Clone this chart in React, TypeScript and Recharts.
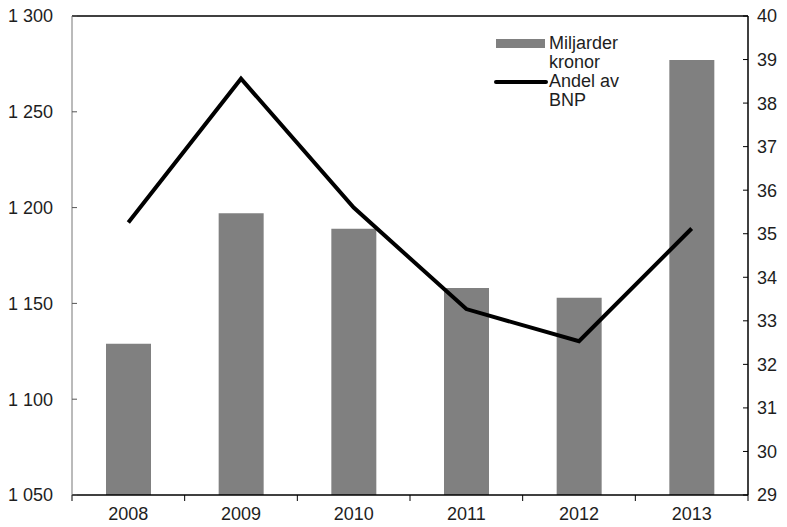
import React from "react";
import {
  ComposedChart,
  Bar,
  Line,
  XAxis,
  YAxis,
  ReferenceLine,
  Legend,
} from "recharts";

// Yearly figures: billions of kronor (bars) and share of GDP (line)
const years = ["2008", "2009", "2010", "2011", "2012", "2013"];
const miljarderKronor = [1129, 1197, 1189, 1158, 1153, 1277];
const andelAvBnp = [35.26, 38.56, 35.6, 33.27, 32.53, 35.12];

const leftTicks = [1050, 1100, 1150, 1200, 1250, 1300];
const rightTicks = [29, 30, 31, 32, 33, 34, 35, 36, 37, 38, 39, 40];

const data = years.map((year, i) => ({
  year,
  kronor: miljarderKronor[i],
  andel: andelAvBnp[i],
}));

const W = 787;
const H = 527;
const LEFT_W = 72;
const RIGHT_W = 39;
const plotWidth = W - LEFT_W - RIGHT_W;
const halfBand = plotWidth / years.length / 2;

const FONT = "'Liberation Sans', Arial, sans-serif";
const TEXT = "#1e1e1e";

const fmtThousands = (v: number) =>
  String(v).replace(/\B(?=(\d{3})+(?!\d))/g, " ");

const LeftTick = (props: any) => {
  const { x, y, payload } = props;
  return (
    <g>
      <line x1={x} x2={x + 5} y1={y} y2={y} stroke="#555" />
      <text
        x={x - 19}
        y={y}
        dy="0.36em"
        textAnchor="end"
        fontSize={18}
        fontFamily={FONT}
        fill={TEXT}
      >
        {fmtThousands(payload.value)}
      </text>
    </g>
  );
};

const RightTick = (props: any) => {
  const { x, y, payload } = props;
  return (
    <g>
      <line x1={x - 5} x2={x} y1={y} y2={y} stroke="#000" />
      <text
        x={x + 9}
        y={y}
        dy="0.36em"
        textAnchor="start"
        fontSize={18}
        fontFamily={FONT}
        fill={TEXT}
      >
        {payload.value}
      </text>
    </g>
  );
};

const YearTick = (props: any) => {
  const { x, y, payload, index } = props;
  return (
    <g>
      <line x1={x - halfBand} x2={x - halfBand} y1={y} y2={y + 6} stroke="#000" />
      {index === years.length - 1 && (
        <line x1={x + halfBand} x2={x + halfBand} y1={y} y2={y + 6} stroke="#000" />
      )}
      <text
        x={x}
        y={y + 19}
        dy="0.36em"
        textAnchor="middle"
        fontSize={18}
        fontFamily={FONT}
        fill={TEXT}
      >
        {payload.value}
      </text>
    </g>
  );
};

const LegendBox = () => (
  <div
    style={{
      fontFamily: FONT,
      fontSize: 18,
      color: TEXT,
      lineHeight: "19px",
      width: 150,
      textAlign: "left",
    }}
  >
    <div style={{ display: "flex", alignItems: "flex-start" }}>
      <div
        style={{
          width: 49,
          height: 9,
          background: "#808080",
          marginTop: 5,
          marginRight: 4,
          marginLeft: 2,
        }}
      />
      <div>
        Miljarder
        <br />
        kronor
      </div>
    </div>
    <div style={{ display: "flex", alignItems: "flex-start" }}>
      <div
        style={{
          width: 54,
          height: 4,
          background: "#000",
          borderRadius: 2,
          marginTop: 8,
          marginRight: 1,
        }}
      />
      <div>
        Andel av
        <br />
        BNP
      </div>
    </div>
  </div>
);

export default function App() {
  return (
    <div style={{ position: "absolute", left: 0, top: 0, background: "#fff" }}>
      <ComposedChart
        width={W}
        height={H}
        data={data}
        margin={{ top: 16, right: 0, bottom: 0, left: 0 }}
      >
        <XAxis
          dataKey="year"
          height={32}
          tickSize={0}
          tickMargin={0}
          tickLine={false}
          axisLine={{ stroke: "#000", strokeWidth: 1.5 }}
          tick={<YearTick />}
          interval={0}
        />
        <YAxis
          yAxisId="left"
          orientation="left"
          width={LEFT_W}
          domain={[1050, 1300]}
          ticks={leftTicks}
          tickSize={0}
          tickMargin={0}
          tickLine={false}
          axisLine={{ stroke: "#777" }}
          tick={<LeftTick />}
          allowDataOverflow
        />
        <YAxis
          yAxisId="right"
          orientation="right"
          width={RIGHT_W}
          domain={[29, 40]}
          ticks={rightTicks}
          tickSize={0}
          tickMargin={0}
          tickLine={false}
          axisLine={{ stroke: "#000", strokeWidth: 1.5 }}
          tick={<RightTick />}
          allowDataOverflow
        />
        <ReferenceLine yAxisId="left" y={1300} stroke="#000" strokeWidth={1.5} />
        <Legend
          content={<LegendBox />}
          verticalAlign="middle"
          align="center"
          wrapperStyle={{ position: "absolute", left: 494, top: 34, width: 150 }}
        />
        <Bar
          yAxisId="left"
          dataKey="kronor"
          fill="#808080"
          barSize={45}
          isAnimationActive={false}
        />
        <Line
          yAxisId="right"
          dataKey="andel"
          type="linear"
          stroke="#000"
          strokeWidth={4}
          dot={false}
          activeDot={false}
          isAnimationActive={false}
        />
      </ComposedChart>
    </div>
  );
}
